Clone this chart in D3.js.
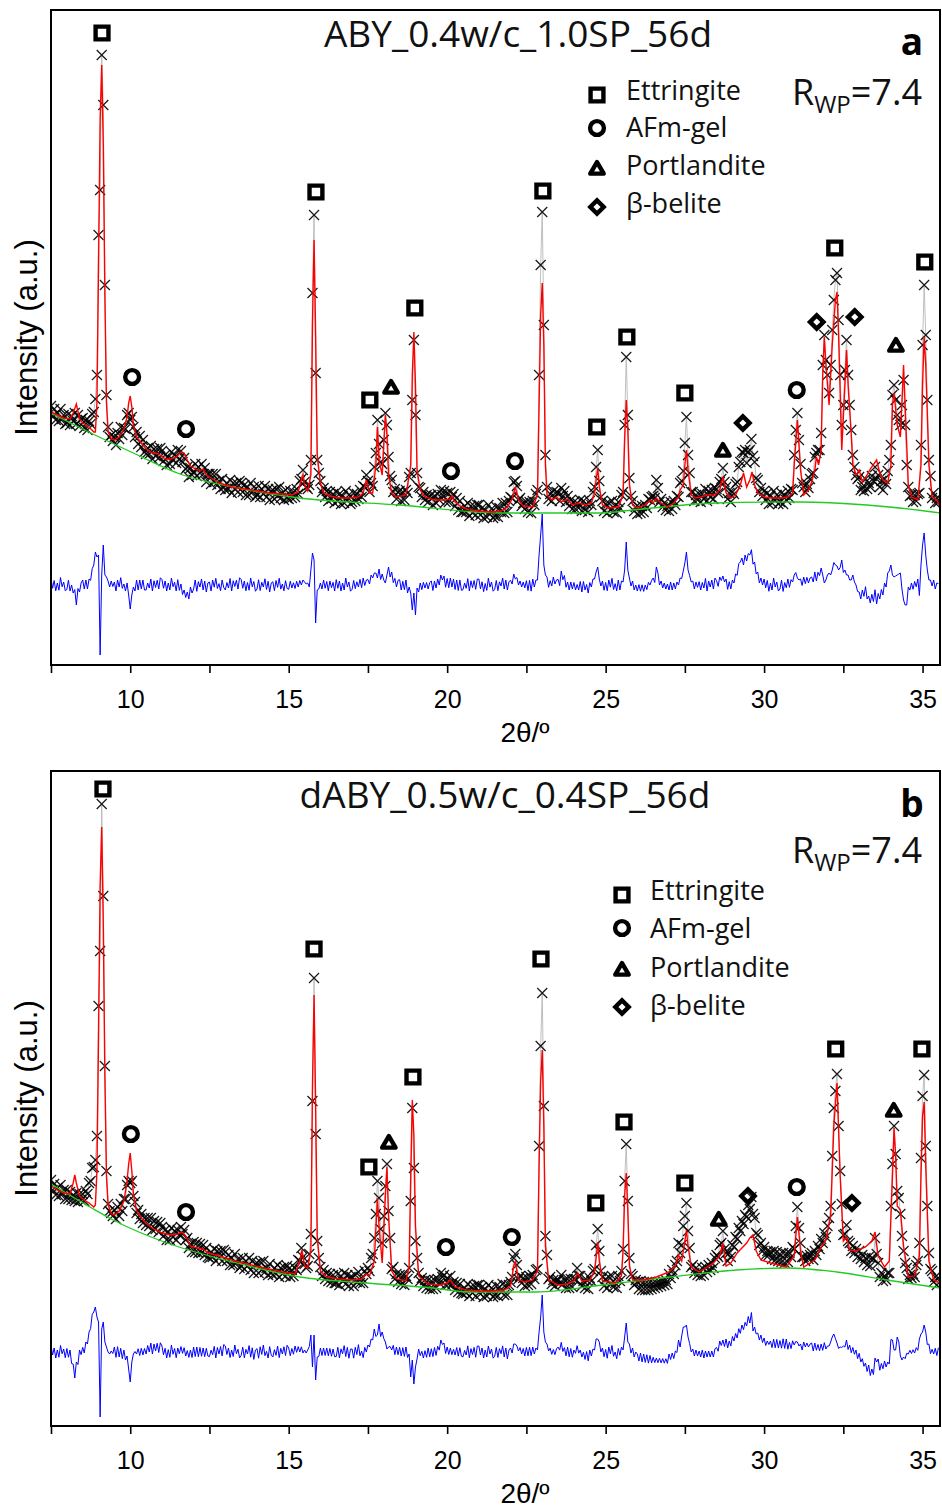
<!DOCTYPE html>
<html><head><meta charset="utf-8">
<script src="https://cdn.jsdelivr.net/npm/d3@7"></script>
<style>body{margin:0;background:#fff}svg{display:block}</style>
</head><body>
<svg id="chart" width="942" height="1510"></svg>
<script>
// ---------------- DATA ----------------
const twoThetaStart = 7.5, twoThetaStep = 0.05;   // observed scan grid
const xTicks = [7.5,10,12.5,15,17.5,20,22.5,25,27.5,30,32.5,35];
const xTickLabels = ["","10","","15","","20","","25","","30","","35"];
const titles = ["ABY_0.4w/c_1.0SP_56d","dABY_0.5w/c_0.4SP_56d"];
const panelLetters = ["a","b"];
const rwpValues = ["7.4","7.4"];
const phaseNames = ["Ettringite","AFm-gel","Portlandite","\u03b2-belite"];

// Panel a: observed intensity (a.u.), one value per 0.05 deg from 7.5
const obsA = [
259,249,256,245,252,244,256,246,250,241,
242,251,240,249,244,252,241,250,239,246,
247,237,245,235,244,241,251,253,266,290,
430,475,610,560,380,270,238,228,230,224,
228,220,232,226,238,230,237,236,250,252,
245,248,238,228,233,221,229,218,225,213,
211,217,211,219,206,216,209,216,207,217,
214,204,210,200,208,201,213,205,210,202,
215,206,214,203,207,196,198,188,197,190,
193,201,189,198,192,201,191,197,183,191,
191,181,191,183,191,180,184,176,186,178,
175,182,176,185,172,182,176,182,173,184,
182,173,180,170,178,170,182,173,178,168,
170,179,168,176,171,179,168,176,165,174,
175,166,176,169,178,167,172,165,175,167,
166,174,167,173,168,176,171,184,186,195,
183,178,176,180,205,372,450,292,205,192,
184,173,177,168,174,164,173,166,171,162,
173,164,171,161,169,162,174,165,170,161,
163,172,164,171,166,175,168,179,178,190,
184,173,182,179,198,212,245,221,203,201,
225,252,240,208,189,185,173,176,166,173,
174,164,173,165,175,172,188,192,265,325,
250,192,178,177,168,173,165,170,163,169,
170,160,169,162,171,165,175,170,174,163,
172,163,173,168,171,159,167,155,164,153,
153,159,153,162,149,159,152,159,150,160,
160,150,157,147,155,148,160,151,156,147,
149,158,148,157,153,162,152,162,153,164,
168,167,183,184,179,165,167,159,162,156,
163,153,163,152,164,160,171,175,290,400,
453,340,210,178,166,171,164,174,168,173,
172,164,177,169,174,163,169,159,165,156,
163,156,162,157,165,154,164,155,161,153,
164,160,173,178,198,215,184,168,164,154,
161,152,162,155,164,153,159,152,163,157,
170,173,240,308,250,187,169,164,154,158,
151,158,152,159,153,160,157,166,165,168,
169,167,185,177,163,166,158,162,155,159,
154,163,156,164,160,169,168,182,184,194,
222,248,210,192,173,173,164,170,165,171,
163,171,166,176,164,174,168,175,166,177,
176,172,183,186,197,183,178,166,172,163,
173,171,181,183,198,203,213,212,215,202,
213,215,226,209,203,187,185,173,177,169,
174,165,172,161,169,162,174,165,170,161,
163,172,161,170,165,174,167,176,175,210,
235,252,225,201,182,178,173,181,177,186,
191,192,208,212,215,215,232,300,330,305,
290,272,300,335,365,385,392,345,290,240,
260,295,325,290,260,235,210,198,190,186,
188,175,178,174,186,176,182,178,189,184,
198,186,190,178,184,175,186,181,194,205,
220,270,280,265,250,245,240,260,285,240,
200,178,169,170,163,170,164,171,172,220,
320,380,330,265,205,189,167,172,162,167,
163];

// Panel a: calculated profile [2theta, intensity]
const calcA = [[7.5,253],[7.7,250],[7.9,247],[8.1,246],[8.2,252],[8.3,261],[8.4,246],[8.5,242],[8.7,238],[8.85,233],[8.9,233],[8.95,262],[9.0,400],[9.05,545],[9.1,600],[9.15,520],[9.2,370],[9.25,262],[9.3,234],[9.4,226],[9.5,225],[9.65,228],[9.8,236],[9.9,248],[9.95,262],[10.0,269],[10.05,258],[10.1,240],[10.2,228],[10.35,222],[10.5,216],[10.7,212],[10.9,211],[11.1,206],[11.3,206],[11.45,208],[11.6,213],[11.7,212],[11.8,205],[11.9,199],[12.05,196],[12.2,194],[12.3,196],[12.4,190],[12.6,186],[12.9,181],[13.2,178],[13.6,176],[14.0,174],[14.4,172],[14.8,171],[15.1,170],[15.3,173],[15.4,186],[15.45,190],[15.5,180],[15.6,174],[15.7,190],[15.75,340],[15.8,425],[15.85,330],[15.9,210],[16.0,182],[16.1,172],[16.3,169],[16.6,167],[16.9,167],[17.2,168],[17.35,172],[17.45,185],[17.55,172],[17.65,172],[17.75,200],[17.8,238],[17.85,205],[17.95,190],[18.05,250],[18.1,230],[18.15,190],[18.25,172],[18.4,168],[18.7,170],[18.85,200],[18.9,290],[18.95,333],[19.0,280],[19.05,195],[19.15,175],[19.3,168],[19.6,165],[19.9,165],[20.1,166],[20.15,170],[20.2,165],[20.4,159],[20.7,155],[21.0,154],[21.4,153],[21.7,154],[21.9,158],[22.05,166],[22.15,178],[22.25,165],[22.4,159],[22.7,158],[22.85,170],[22.9,260],[22.95,350],[23.0,382],[23.05,320],[23.1,200],[23.15,170],[23.3,165],[23.45,168],[23.6,163],[23.8,166],[23.95,160],[24.15,162],[24.35,160],[24.55,162],[24.65,172],[24.7,185],[24.75,197],[24.8,178],[24.9,160],[25.1,157],[25.4,158],[25.55,170],[25.6,225],[25.65,265],[25.7,235],[25.75,180],[25.85,160],[26.0,157],[26.25,160],[26.4,165],[26.5,162],[26.6,167],[26.7,163],[26.85,160],[26.95,158],[27.15,162],[27.3,168],[27.35,175],[27.45,180],[27.5,200],[27.55,215],[27.6,195],[27.7,170],[27.85,167],[28.0,168],[28.2,170],[28.45,170],[28.6,175],[28.7,188],[28.8,172],[28.95,167],[29.1,170],[29.25,180],[29.35,192],[29.45,178],[29.55,185],[29.62,193],[29.7,180],[29.8,172],[30.0,168],[30.2,167],[30.5,167],[30.75,168],[30.9,172],[30.95,200],[31.05,245],[31.15,195],[31.25,170],[31.4,175],[31.5,183],[31.6,195],[31.65,208],[31.72,200],[31.8,215],[31.85,290],[31.9,328],[31.95,300],[32.05,260],[32.15,320],[32.25,365],[32.3,373],[32.35,330],[32.45,215],[32.55,280],[32.6,315],[32.65,280],[32.75,230],[32.8,200],[32.9,190],[33.0,195],[33.1,183],[33.25,190],[33.35,196],[33.55,205],[33.65,192],[33.75,185],[33.9,182],[34.0,200],[34.05,260],[34.1,272],[34.2,240],[34.3,228],[34.4,300],[34.45,260],[34.55,180],[34.65,168],[34.85,165],[34.95,200],[35.0,280],[35.05,328],[35.1,300],[35.2,200],[35.3,168],[35.45,165],[35.55,158]];

// Panel a: background [2theta, intensity]
const bgA = [[7.5,252],[8.5,236],[10.1,212],[11.66,190],[13.24,178],[15.35,167],[18.5,160],[21.66,152],[24.82,152],[25.86,155],[28.5,162],[31.13,163],[33.24,160],[35.32,153],[35.55,152]];

// Panel b: observed intensity (a.u.), one value per 0.05 deg from 7.5
const obsB = [
246,236,242,231,238,230,241,232,236,227,
236,227,234,226,231,225,233,224,232,226,
232,225,235,232,243,245,258,259,266,290,
420,475,622,530,360,255,222,215,213,210,
216,207,219,210,222,215,227,227,241,245,
243,245,230,224,213,216,207,212,203,208,
201,208,200,208,196,205,197,204,194,203,
199,190,196,186,194,186,198,189,195,186,
196,191,199,192,196,186,188,178,182,174,
184,174,183,173,182,173,181,171,178,169,
168,174,169,177,165,175,168,175,165,176,
174,165,171,161,168,161,172,163,167,158,
160,168,157,165,160,168,156,165,153,162,
163,153,164,156,165,154,158,151,162,153,
151,158,152,161,149,158,152,159,150,160,
157,149,156,150,158,156,166,165,178,169,
162,158,160,172,192,325,448,292,185,168,
159,150,156,147,153,145,152,144,151,143,
143,152,141,150,145,153,142,151,140,149,
149,140,151,144,154,143,148,143,155,152,
158,155,168,172,188,212,245,228,197,183,
210,240,262,215,188,157,159,147,152,144,
151,142,150,141,150,147,158,225,318,258,
185,168,153,145,148,140,146,138,146,137,
145,137,146,138,147,143,153,149,151,141,
148,142,150,141,144,136,143,134,142,133,
132,138,133,142,130,139,133,140,130,141,
141,132,139,129,137,130,141,133,138,129,
131,140,130,139,134,142,131,141,131,141,
144,149,168,172,161,147,150,143,148,140,
149,141,150,142,151,147,156,157,280,380,
433,320,190,171,147,149,142,146,140,145,
146,143,151,142,146,138,147,138,147,139,
147,147,158,150,150,140,145,138,146,137,
148,145,155,157,181,197,175,155,149,140,
147,138,149,142,150,139,143,138,150,145,
155,177,245,282,225,168,152,150,141,146,
144,137,145,136,144,136,144,136,144,137,
143,138,143,139,144,140,145,141,146,142,
152,148,156,152,161,165,183,173,181,200,
210,223,195,178,159,161,153,158,151,155,
150,158,151,159,154,161,156,163,158,168,
171,169,181,183,195,177,173,165,173,169,
181,179,189,187,198,195,205,202,211,209,
221,217,229,212,208,193,191,181,183,175,
179,171,175,171,174,167,175,166,174,165,
172,164,173,163,172,164,173,169,179,177,
200,219,198,183,169,169,165,170,167,171,
173,166,175,171,180,177,187,183,193,189,
200,208,220,270,318,335,352,300,255,222,
191,192,201,185,183,175,180,173,177,169,
175,167,171,164,168,161,169,160,168,167,
188,172,163,149,153,145,150,146,153,153,
220,262,300,272,235,228,212,190,175,163,
158,147,151,148,152,149,161,165,183,268,
330,351,280,220,173,157,155,144,149,141,
148];

// Panel b: calculated profile [2theta, intensity]
const calcB = [[7.5,240],[7.7,236],[7.9,233],[8.1,232],[8.2,243],[8.25,251],[8.3,243],[8.4,230],[8.55,226],[8.7,223],[8.85,219],[8.9,221],[8.95,255],[9.0,390],[9.05,540],[9.1,599],[9.15,500],[9.2,350],[9.25,250],[9.3,222],[9.4,212],[9.5,211],[9.65,215],[9.8,225],[9.9,245],[9.95,262],[10.0,273],[10.05,255],[10.1,232],[10.2,215],[10.4,206],[10.6,200],[10.8,196],[11.0,193],[11.3,191],[11.5,192],[11.63,194],[11.75,190],[11.9,180],[12.1,178],[12.3,177],[12.45,173],[12.7,171],[13.0,168],[13.3,165],[13.7,162],[14.2,158],[14.8,154],[15.2,152],[15.35,165],[15.42,176],[15.5,160],[15.6,158],[15.7,175],[15.75,340],[15.8,431],[15.85,320],[15.9,190],[16.0,155],[16.2,149],[16.6,147],[17.0,146],[17.3,147],[17.45,152],[17.55,150],[17.7,165],[17.8,228],[17.85,200],[17.95,163],[18.05,230],[18.1,259],[18.15,210],[18.25,155],[18.4,147],[18.7,145],[18.8,160],[18.85,250],[18.9,326],[18.95,290],[19.0,200],[19.1,150],[19.4,142],[19.8,141],[20.0,143],[20.1,146],[20.25,139],[20.6,136],[21.0,135],[21.4,135],[21.8,136],[22.0,140],[22.1,160],[22.15,164],[22.25,146],[22.45,144],[22.7,146],[22.85,155],[22.9,260],[22.95,345],[23.0,376],[23.05,300],[23.1,180],[23.2,146],[23.5,141],[23.8,142],[24.0,145],[24.12,153],[24.25,145],[24.5,146],[24.65,155],[24.7,168],[24.75,184],[24.8,165],[24.9,145],[25.3,143],[25.5,150],[25.55,175],[25.6,230],[25.65,253],[25.7,215],[25.75,160],[25.85,146],[26.2,146],[26.6,149],[27.0,154],[27.2,160],[27.3,171],[27.4,165],[27.5,185],[27.55,196],[27.6,180],[27.7,159],[27.95,154],[28.4,163],[28.6,170],[28.7,183],[28.8,160],[28.95,163],[29.15,173],[29.3,178],[29.45,183],[29.55,188],[29.65,191],[29.75,175],[29.9,166],[30.2,163],[30.7,159],[30.95,170],[31.05,209],[31.15,175],[31.25,159],[31.6,166],[31.8,179],[31.95,186],[32.1,210],[32.2,300],[32.3,343],[32.4,250],[32.5,185],[32.6,189],[32.7,176],[32.9,175],[33.2,179],[33.4,185],[33.5,194],[33.6,170],[33.8,159],[33.95,165],[34.05,250],[34.1,298],[34.15,270],[34.2,220],[34.3,216],[34.4,180],[34.55,149],[34.75,150],[34.9,170],[34.95,250],[35.0,310],[35.05,324],[35.1,260],[35.2,165],[35.35,146],[35.55,143]];

// Panel b: background [2theta, intensity]
const bgB = [[7.5,242],[8.73,219],[9.46,206],[11.16,183],[13.24,164],[15.35,149],[17.47,143],[19.55,138],[20.72,134],[22.83,134],[24.91,141],[27.03,149],[29.14,156],[30.72,158],[32.29,154],[33.87,146],[35.55,138]];

// Phase reflection labels [2theta, intensity level]
const ettrA = [[9.11,632],[15.86,473],[17.56,265],[18.98,357],[23.02,474],[24.72,238],[25.67,328],[27.5,272],[32.23,417],[35.07,403]];
const afmA = [[10.06,288],[11.76,236],[20.12,194],[22.14,204],[31.03,275]];
const portA = [[18.23,278],[28.7,215],[34.16,320]];
const beliteA = [[29.33,242],[31.66,343],[32.86,348]];
const ettrB = [[9.14,637],[15.8,477],[17.53,259],[18.92,349],[22.96,467],[24.69,223],[25.58,304],[27.5,243],[32.26,377],[34.98,377]];
const afmB = [[10.02,292],[11.76,214],[19.96,179],[22.04,189],[31.03,239]];
const portB = [[18.16,284],[28.57,207],[34.09,316]];
const beliteB = [[29.49,230],[32.77,223]];

// ---------------- DRAWING ----------------
const svg = d3.select("#chart");
const x = d3.scaleLinear().domain([7.5, 35.55]).range([51, 940]);
const intensityMax = 655;

const panels = [
  {top:10, bottom:665, obs:obsA, calc:calcA, bg:bgA, diffOffset:80, marks:[ettrA,afmA,portA,beliteA],
   titleX:518, titleY:47, letterY:55, rwpY:105, legSymX:597, legTextX:626, legSymY:[95,128,168,207], legTextY:[100,137,175,213]},
  {top:771, bottom:1426, obs:obsB, calc:calcB, bg:bgB, diffOffset:74, marks:[ettrB,afmB,portB,beliteB],
   titleX:505, titleY:808, letterY:817, rwpY:863, legSymX:622, legTextX:650, legSymY:[895,928,969,1007], legTextY:[900,938,977,1015]}
];

function interp(series, t) {
  const i = d3.bisector(d => d[0]).left(series, t);
  if (i <= 0) return series[0][1];
  if (i >= series.length) return series[series.length-1][1];
  const [x0,y0] = series[i-1], [x1,y1] = series[i];
  return y0 + (y1 - y0) * (t - x0) / (x1 - x0);
}

const symbolPaths = [
  {d: d3.symbol(d3.symbolSquare, 165)(), rot:0, dy:0},
  {d: d3.symbol(d3.symbolCircle, 150)(), rot:0, dy:0},
  {d: d3.symbol(d3.symbolTriangle, 78)(), rot:0, dy:1.8},
  {d: d3.symbol(d3.symbolSquare, 90)(), rot:45, dy:0}
];
const xMark = "M-5,-5L5,5M-5,5L5,-5";

panels.forEach((p, pi) => {
  const y = d3.scaleLinear().domain([0, intensityMax]).range([p.bottom, p.bottom - intensityMax]);
  const g = svg.append("g");
  const clipId = "clip" + pi;
  svg.append("clipPath").attr("id", clipId).append("rect")
    .attr("x", 51).attr("y", p.top).attr("width", 889).attr("height", p.bottom - p.top);
  const plot = g.append("g").attr("clip-path", `url(#${clipId})`);

  const obsPts = p.obs.map((v, i) => [twoThetaStart + i * twoThetaStep, v]);
  const diffPts = obsPts.map(d => [d[0], p.diffOffset + d[1] - interp(p.calc, d[0])]);
  const line = d3.line().x(d => x(d[0])).y(d => y(d[1]));

  // observed: thin grey line + x markers
  plot.append("path").datum(obsPts).attr("d", line)
    .attr("fill","none").attr("stroke","#b8b8b8").attr("stroke-width",0.9);
  plot.append("g").selectAll("path").data(obsPts).join("path")
    .attr("d", xMark)
    .attr("transform", d => `translate(${x(d[0])},${y(d[1])})`)
    .attr("stroke", "#000").attr("stroke-width", 1.25).attr("stroke-opacity", 0.9).attr("fill","none");

  // background
  plot.append("path").datum(p.bg)
    .attr("d", d3.line().x(d => x(d[0])).y(d => y(d[1])).curve(d3.curveMonotoneX))
    .attr("fill","none").attr("stroke","#22cc22").attr("stroke-width",1.3);

  // calculated
  plot.append("path").datum(p.calc).attr("d", line)
    .attr("fill","none").attr("stroke","#ff0000").attr("stroke-width",1.4);

  // difference
  plot.append("path").datum(diffPts).attr("d", line)
    .attr("fill","none").attr("stroke","#0000ff").attr("stroke-width",1);

  // frame
  g.append("rect").attr("x",51).attr("y",p.top).attr("width",889).attr("height",p.bottom-p.top)
    .attr("fill","none").attr("stroke","#000").attr("stroke-width",2);

  // x axis
  const ax = g.append("g").attr("transform", `translate(0,${p.bottom})`)
    .call(d3.axisBottom(x).tickValues(xTicks).tickSize(8).tickPadding(17)
      .tickFormat((d, i) => xTickLabels[i]));
  ax.select(".domain").remove();
  ax.selectAll(".tick line").attr("stroke","#000").attr("stroke-width",1.6);
  ax.selectAll(".tick text").attr("font-family","'Liberation Sans', Arial, sans-serif")
    .attr("font-size", 25).attr("fill","#000");

  g.append("text").attr("x", 525).attr("y", p.bottom + 77).attr("text-anchor","middle")
    .attr("font-family","'Liberation Sans', Arial, sans-serif").attr("font-size",28)
    .text("2\u03b8/\u00ba");

  const cy = (p.top + p.bottom) / 2;
  g.append("text").attr("transform", `translate(37,${cy}) rotate(-90)`).attr("text-anchor","middle")
    .attr("font-family","'Liberation Sans', Arial, sans-serif").attr("font-size",31)
    .text("Intensity (a.u.)");

  // phase reflection markers
  p.marks.forEach((arr, k) => {
    const s = symbolPaths[k];
    g.append("g").selectAll("path").data(arr).join("path")
      .attr("d", s.d)
      .attr("transform", d => `translate(${x(d[0])},${y(d[1]) + s.dy}) rotate(${s.rot})`)
      .attr("fill","none").attr("stroke","#000").attr("stroke-width",4.4)
      .attr("stroke-linejoin", k === 2 ? "round" : "miter");
  });

  // title, letter, Rwp
  g.append("text").attr("x", p.titleX).attr("y", p.titleY).attr("text-anchor","middle")
    .attr("font-family","'Open Sans', sans-serif").attr("font-size",37).attr("fill","#111")
    .text(titles[pi]);
  g.append("text").attr("x", 912).attr("y", p.letterY).attr("text-anchor","middle")
    .attr("font-family","'Open Sans', sans-serif").attr("font-weight","bold").attr("font-size",37)
    .text(panelLetters[pi]);
  const rt = g.append("text").attr("x", 922).attr("y", p.rwpY).attr("text-anchor","end")
    .attr("font-family","'Open Sans', sans-serif").attr("font-size",36).attr("fill","#111");
  rt.append("tspan").text("R");
  rt.append("tspan").attr("font-size",24).attr("dy",8).text("WP");
  rt.append("tspan").attr("dy",-8).text("=" + rwpValues[pi]);

  // legend
  phaseNames.forEach((name, k) => {
    const s = symbolPaths[k];
    g.append("path").attr("d", s.d)
      .attr("transform", `translate(${p.legSymX},${p.legSymY[k] + s.dy}) rotate(${s.rot})`)
      .attr("fill","none").attr("stroke","#000").attr("stroke-width",4.4)
      .attr("stroke-linejoin", k === 2 ? "round" : "miter");
    g.append("text").attr("x", p.legTextX).attr("y", p.legTextY[k])
      .attr("font-family","'Open Sans', sans-serif").attr("font-size",27).attr("fill","#111")
      .text(name);
  });
});
</script>
</body></html>
